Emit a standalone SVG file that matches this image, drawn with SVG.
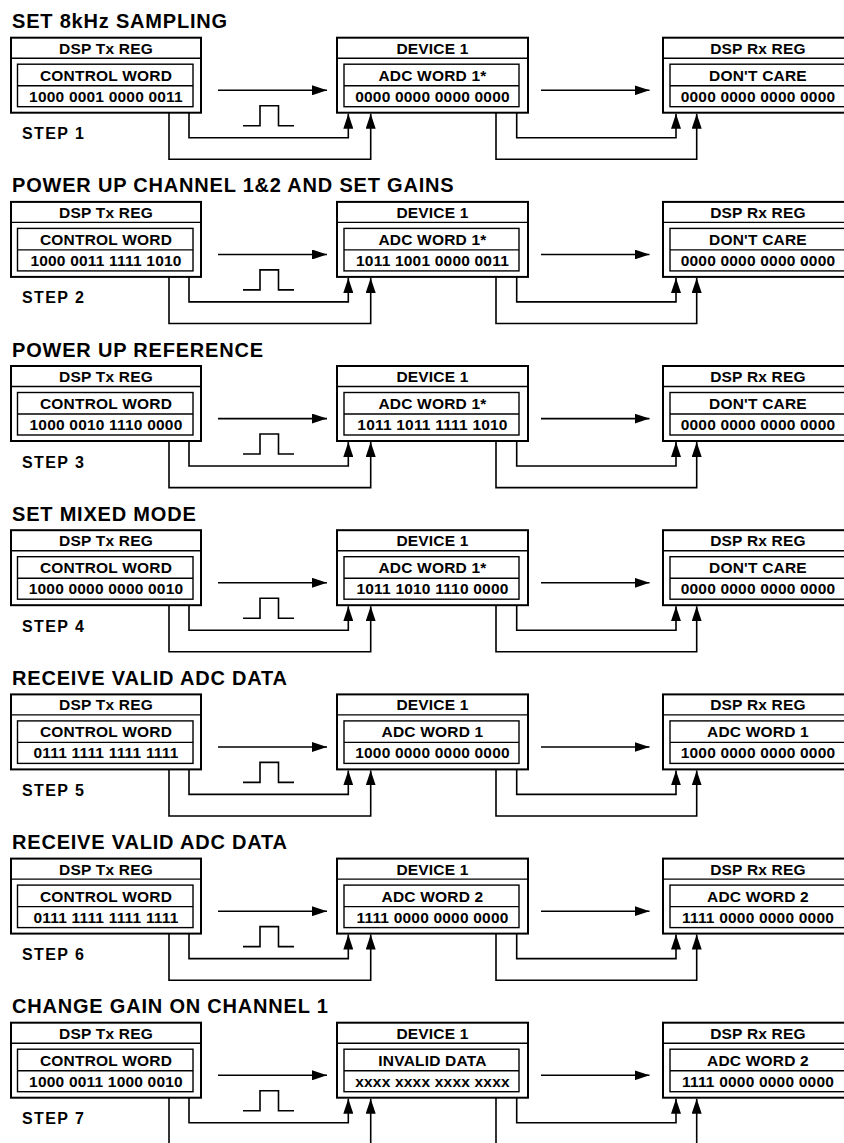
<svg xmlns="http://www.w3.org/2000/svg" width="844" height="1143" viewBox="0 0 844 1143">
<defs>
<style>
text{font-family:"Liberation Sans",Arial,sans-serif;font-weight:bold;fill:#000}
.ttl{font-size:20px;letter-spacing:0.8px}
.bx{font-size:15.5px;letter-spacing:0.2px;text-anchor:middle}
.stp{font-size:16px;letter-spacing:1.4px}
.outer{fill:#fff;stroke:#000;stroke-width:2}
.inner{fill:none;stroke:#000;stroke-width:1.4}
.div{stroke:#000;stroke-width:1.4}
.con{fill:none;stroke:#000;stroke-width:1.6}
.arr{fill:none;stroke:#000;stroke-width:1.6;marker-end:url(#ah)}
</style>
<marker id="ah" markerUnits="userSpaceOnUse" markerWidth="16" markerHeight="10" refX="15" refY="5" orient="auto">
<path d="M0,0 L15,5 L0,10 z" fill="#000"/>
</marker>
</defs>
<rect width="844" height="1143" fill="#fff"/>

<!-- STEP 1 -->
<g id="step1" transform="translate(0,37.7)">
<text class="ttl" x="12" y="-9.5">SET 8kHz SAMPLING</text>
<text class="stp" x="22" y="101.6">STEP 1</text>
<g id="s1-tx"><rect class="outer" x="11" y="0" width="190" height="75"/><line class="div" x1="11" y1="20.5" x2="201" y2="20.5"/><rect class="inner" x="17.5" y="26.5" width="175.5" height="42.5"/><line class="div" x1="17.5" y1="48" x2="193" y2="48"/><text class="bx" x="106" y="16">DSP Tx REG</text><text class="bx" x="106" y="43">CONTROL WORD</text><text class="bx" x="106" y="64">1000 0001 0000 0011</text></g>
<g id="s1-dev"><rect class="outer" x="337" y="0" width="191" height="75"/><line class="div" x1="337" y1="20.5" x2="528" y2="20.5"/><rect class="inner" x="344" y="26.5" width="175" height="42.5"/><line class="div" x1="344" y1="48" x2="519" y2="48"/><text class="bx" x="432.5" y="16">DEVICE 1</text><text class="bx" x="432.5" y="43">ADC WORD 1*</text><text class="bx" x="432.5" y="64">0000 0000 0000 0000</text></g>
<g id="s1-rx"><rect class="outer" x="663" y="0" width="190" height="75"/><line class="div" x1="663" y1="20.5" x2="853" y2="20.5"/><rect class="inner" x="670" y="26.5" width="176" height="42.5"/><line class="div" x1="670" y1="48" x2="846" y2="48"/><text class="bx" x="758" y="16">DSP Rx REG</text><text class="bx" x="758" y="43">DON'T CARE</text><text class="bx" x="758" y="64">0000 0000 0000 0000</text></g>
<g id="s1-connectors"><path class="arr" d="M218,52.6 H327"/><path class="arr" d="M541,52.6 H649.5"/><path class="con" d="M243,88 H260 V68 H278.5 V88 H294"/><path class="arr" d="M189,75 V100 H348.3 V76"/><path class="arr" d="M169,75 V121.6 H370.7 V76"/><path class="arr" d="M516.7,75 V100 H676 V76"/><path class="arr" d="M496,75 V121.6 H696.7 V76"/></g>
</g>

<!-- STEP 2 -->
<g id="step2" transform="translate(0,201.9)">
<text class="ttl" x="12" y="-9.5">POWER UP CHANNEL 1&amp;2 AND SET GAINS</text>
<text class="stp" x="22" y="101.6">STEP 2</text>
<g id="s2-tx"><rect class="outer" x="11" y="0" width="190" height="75"/><line class="div" x1="11" y1="20.5" x2="201" y2="20.5"/><rect class="inner" x="17.5" y="26.5" width="175.5" height="42.5"/><line class="div" x1="17.5" y1="48" x2="193" y2="48"/><text class="bx" x="106" y="16">DSP Tx REG</text><text class="bx" x="106" y="43">CONTROL WORD</text><text class="bx" x="106" y="64">1000 0011 1111 1010</text></g>
<g id="s2-dev"><rect class="outer" x="337" y="0" width="191" height="75"/><line class="div" x1="337" y1="20.5" x2="528" y2="20.5"/><rect class="inner" x="344" y="26.5" width="175" height="42.5"/><line class="div" x1="344" y1="48" x2="519" y2="48"/><text class="bx" x="432.5" y="16">DEVICE 1</text><text class="bx" x="432.5" y="43">ADC WORD 1*</text><text class="bx" x="432.5" y="64">1011 1001 0000 0011</text></g>
<g id="s2-rx"><rect class="outer" x="663" y="0" width="190" height="75"/><line class="div" x1="663" y1="20.5" x2="853" y2="20.5"/><rect class="inner" x="670" y="26.5" width="176" height="42.5"/><line class="div" x1="670" y1="48" x2="846" y2="48"/><text class="bx" x="758" y="16">DSP Rx REG</text><text class="bx" x="758" y="43">DON'T CARE</text><text class="bx" x="758" y="64">0000 0000 0000 0000</text></g>
<g id="s2-connectors"><path class="arr" d="M218,52.6 H327"/><path class="arr" d="M541,52.6 H649.5"/><path class="con" d="M243,88 H260 V68 H278.5 V88 H294"/><path class="arr" d="M189,75 V100 H348.3 V76"/><path class="arr" d="M169,75 V121.6 H370.7 V76"/><path class="arr" d="M516.7,75 V100 H676 V76"/><path class="arr" d="M496,75 V121.6 H696.7 V76"/></g>
</g>

<!-- STEP 3 -->
<g id="step3" transform="translate(0,366)">
<text class="ttl" x="12" y="-9.5">POWER UP REFERENCE</text>
<text class="stp" x="22" y="101.6">STEP 3</text>
<g id="s3-tx"><rect class="outer" x="11" y="0" width="190" height="75"/><line class="div" x1="11" y1="20.5" x2="201" y2="20.5"/><rect class="inner" x="17.5" y="26.5" width="175.5" height="42.5"/><line class="div" x1="17.5" y1="48" x2="193" y2="48"/><text class="bx" x="106" y="16">DSP Tx REG</text><text class="bx" x="106" y="43">CONTROL WORD</text><text class="bx" x="106" y="64">1000 0010 1110 0000</text></g>
<g id="s3-dev"><rect class="outer" x="337" y="0" width="191" height="75"/><line class="div" x1="337" y1="20.5" x2="528" y2="20.5"/><rect class="inner" x="344" y="26.5" width="175" height="42.5"/><line class="div" x1="344" y1="48" x2="519" y2="48"/><text class="bx" x="432.5" y="16">DEVICE 1</text><text class="bx" x="432.5" y="43">ADC WORD 1*</text><text class="bx" x="432.5" y="64">1011 1011 1111 1010</text></g>
<g id="s3-rx"><rect class="outer" x="663" y="0" width="190" height="75"/><line class="div" x1="663" y1="20.5" x2="853" y2="20.5"/><rect class="inner" x="670" y="26.5" width="176" height="42.5"/><line class="div" x1="670" y1="48" x2="846" y2="48"/><text class="bx" x="758" y="16">DSP Rx REG</text><text class="bx" x="758" y="43">DON'T CARE</text><text class="bx" x="758" y="64">0000 0000 0000 0000</text></g>
<g id="s3-connectors"><path class="arr" d="M218,52.6 H327"/><path class="arr" d="M541,52.6 H649.5"/><path class="con" d="M243,88 H260 V68 H278.5 V88 H294"/><path class="arr" d="M189,75 V100 H348.3 V76"/><path class="arr" d="M169,75 V121.6 H370.7 V76"/><path class="arr" d="M516.7,75 V100 H676 V76"/><path class="arr" d="M496,75 V121.6 H696.7 V76"/></g>
</g>

<!-- STEP 4 -->
<g id="step4" transform="translate(0,530.2)">
<text class="ttl" x="12" y="-9.5">SET MIXED MODE</text>
<text class="stp" x="22" y="101.6">STEP 4</text>
<g id="s4-tx"><rect class="outer" x="11" y="0" width="190" height="75"/><line class="div" x1="11" y1="20.5" x2="201" y2="20.5"/><rect class="inner" x="17.5" y="26.5" width="175.5" height="42.5"/><line class="div" x1="17.5" y1="48" x2="193" y2="48"/><text class="bx" x="106" y="16">DSP Tx REG</text><text class="bx" x="106" y="43">CONTROL WORD</text><text class="bx" x="106" y="64">1000 0000 0000 0010</text></g>
<g id="s4-dev"><rect class="outer" x="337" y="0" width="191" height="75"/><line class="div" x1="337" y1="20.5" x2="528" y2="20.5"/><rect class="inner" x="344" y="26.5" width="175" height="42.5"/><line class="div" x1="344" y1="48" x2="519" y2="48"/><text class="bx" x="432.5" y="16">DEVICE 1</text><text class="bx" x="432.5" y="43">ADC WORD 1*</text><text class="bx" x="432.5" y="64">1011 1010 1110 0000</text></g>
<g id="s4-rx"><rect class="outer" x="663" y="0" width="190" height="75"/><line class="div" x1="663" y1="20.5" x2="853" y2="20.5"/><rect class="inner" x="670" y="26.5" width="176" height="42.5"/><line class="div" x1="670" y1="48" x2="846" y2="48"/><text class="bx" x="758" y="16">DSP Rx REG</text><text class="bx" x="758" y="43">DON'T CARE</text><text class="bx" x="758" y="64">0000 0000 0000 0000</text></g>
<g id="s4-connectors"><path class="arr" d="M218,52.6 H327"/><path class="arr" d="M541,52.6 H649.5"/><path class="con" d="M243,88 H260 V68 H278.5 V88 H294"/><path class="arr" d="M189,75 V100 H348.3 V76"/><path class="arr" d="M169,75 V121.6 H370.7 V76"/><path class="arr" d="M516.7,75 V100 H676 V76"/><path class="arr" d="M496,75 V121.6 H696.7 V76"/></g>
</g>

<!-- STEP 5 -->
<g id="step5" transform="translate(0,694.4)">
<text class="ttl" x="12" y="-9.5">RECEIVE VALID ADC DATA</text>
<text class="stp" x="22" y="101.6">STEP 5</text>
<g id="s5-tx"><rect class="outer" x="11" y="0" width="190" height="75"/><line class="div" x1="11" y1="20.5" x2="201" y2="20.5"/><rect class="inner" x="17.5" y="26.5" width="175.5" height="42.5"/><line class="div" x1="17.5" y1="48" x2="193" y2="48"/><text class="bx" x="106" y="16">DSP Tx REG</text><text class="bx" x="106" y="43">CONTROL WORD</text><text class="bx" x="106" y="64">0111 1111 1111 1111</text></g>
<g id="s5-dev"><rect class="outer" x="337" y="0" width="191" height="75"/><line class="div" x1="337" y1="20.5" x2="528" y2="20.5"/><rect class="inner" x="344" y="26.5" width="175" height="42.5"/><line class="div" x1="344" y1="48" x2="519" y2="48"/><text class="bx" x="432.5" y="16">DEVICE 1</text><text class="bx" x="432.5" y="43">ADC WORD 1</text><text class="bx" x="432.5" y="64">1000 0000 0000 0000</text></g>
<g id="s5-rx"><rect class="outer" x="663" y="0" width="190" height="75"/><line class="div" x1="663" y1="20.5" x2="853" y2="20.5"/><rect class="inner" x="670" y="26.5" width="176" height="42.5"/><line class="div" x1="670" y1="48" x2="846" y2="48"/><text class="bx" x="758" y="16">DSP Rx REG</text><text class="bx" x="758" y="43">ADC WORD 1</text><text class="bx" x="758" y="64">1000 0000 0000 0000</text></g>
<g id="s5-connectors"><path class="arr" d="M218,52.6 H327"/><path class="arr" d="M541,52.6 H649.5"/><path class="con" d="M243,88 H260 V68 H278.5 V88 H294"/><path class="arr" d="M189,75 V100 H348.3 V76"/><path class="arr" d="M169,75 V121.6 H370.7 V76"/><path class="arr" d="M516.7,75 V100 H676 V76"/><path class="arr" d="M496,75 V121.6 H696.7 V76"/></g>
</g>

<!-- STEP 6 -->
<g id="step6" transform="translate(0,858.6)">
<text class="ttl" x="12" y="-9.5">RECEIVE VALID ADC DATA</text>
<text class="stp" x="22" y="101.6">STEP 6</text>
<g id="s6-tx"><rect class="outer" x="11" y="0" width="190" height="75"/><line class="div" x1="11" y1="20.5" x2="201" y2="20.5"/><rect class="inner" x="17.5" y="26.5" width="175.5" height="42.5"/><line class="div" x1="17.5" y1="48" x2="193" y2="48"/><text class="bx" x="106" y="16">DSP Tx REG</text><text class="bx" x="106" y="43">CONTROL WORD</text><text class="bx" x="106" y="64">0111 1111 1111 1111</text></g>
<g id="s6-dev"><rect class="outer" x="337" y="0" width="191" height="75"/><line class="div" x1="337" y1="20.5" x2="528" y2="20.5"/><rect class="inner" x="344" y="26.5" width="175" height="42.5"/><line class="div" x1="344" y1="48" x2="519" y2="48"/><text class="bx" x="432.5" y="16">DEVICE 1</text><text class="bx" x="432.5" y="43">ADC WORD 2</text><text class="bx" x="432.5" y="64">1111 0000 0000 0000</text></g>
<g id="s6-rx"><rect class="outer" x="663" y="0" width="190" height="75"/><line class="div" x1="663" y1="20.5" x2="853" y2="20.5"/><rect class="inner" x="670" y="26.5" width="176" height="42.5"/><line class="div" x1="670" y1="48" x2="846" y2="48"/><text class="bx" x="758" y="16">DSP Rx REG</text><text class="bx" x="758" y="43">ADC WORD 2</text><text class="bx" x="758" y="64">1111 0000 0000 0000</text></g>
<g id="s6-connectors"><path class="arr" d="M218,52.6 H327"/><path class="arr" d="M541,52.6 H649.5"/><path class="con" d="M243,88 H260 V68 H278.5 V88 H294"/><path class="arr" d="M189,75 V100 H348.3 V76"/><path class="arr" d="M169,75 V121.6 H370.7 V76"/><path class="arr" d="M516.7,75 V100 H676 V76"/><path class="arr" d="M496,75 V121.6 H696.7 V76"/></g>
</g>

<!-- STEP 7 -->
<g id="step7" transform="translate(0,1022.7)">
<text class="ttl" x="12" y="-9.5">CHANGE GAIN ON CHANNEL 1</text>
<text class="stp" x="22" y="101.6">STEP 7</text>
<g id="s7-tx"><rect class="outer" x="11" y="0" width="190" height="75"/><line class="div" x1="11" y1="20.5" x2="201" y2="20.5"/><rect class="inner" x="17.5" y="26.5" width="175.5" height="42.5"/><line class="div" x1="17.5" y1="48" x2="193" y2="48"/><text class="bx" x="106" y="16">DSP Tx REG</text><text class="bx" x="106" y="43">CONTROL WORD</text><text class="bx" x="106" y="64">1000 0011 1000 0010</text></g>
<g id="s7-dev"><rect class="outer" x="337" y="0" width="191" height="75"/><line class="div" x1="337" y1="20.5" x2="528" y2="20.5"/><rect class="inner" x="344" y="26.5" width="175" height="42.5"/><line class="div" x1="344" y1="48" x2="519" y2="48"/><text class="bx" x="432.5" y="16">DEVICE 1</text><text class="bx" x="432.5" y="43">INVALID DATA</text><text class="bx" x="432.5" y="64">xxxx xxxx xxxx xxxx</text></g>
<g id="s7-rx"><rect class="outer" x="663" y="0" width="190" height="75"/><line class="div" x1="663" y1="20.5" x2="853" y2="20.5"/><rect class="inner" x="670" y="26.5" width="176" height="42.5"/><line class="div" x1="670" y1="48" x2="846" y2="48"/><text class="bx" x="758" y="16">DSP Rx REG</text><text class="bx" x="758" y="43">ADC WORD 2</text><text class="bx" x="758" y="64">1111 0000 0000 0000</text></g>
<g id="s7-connectors"><path class="arr" d="M218,52.6 H327"/><path class="arr" d="M541,52.6 H649.5"/><path class="con" d="M243,88 H260 V68 H278.5 V88 H294"/><path class="arr" d="M189,75 V100 H348.3 V76"/><path class="con" d="M169,75 V121"/><path class="arr" d="M370.7,121 V76"/><path class="arr" d="M516.7,75 V100 H676 V76"/><path class="con" d="M496,75 V121"/><path class="arr" d="M696.7,121 V76"/></g>
</g>
</svg>
